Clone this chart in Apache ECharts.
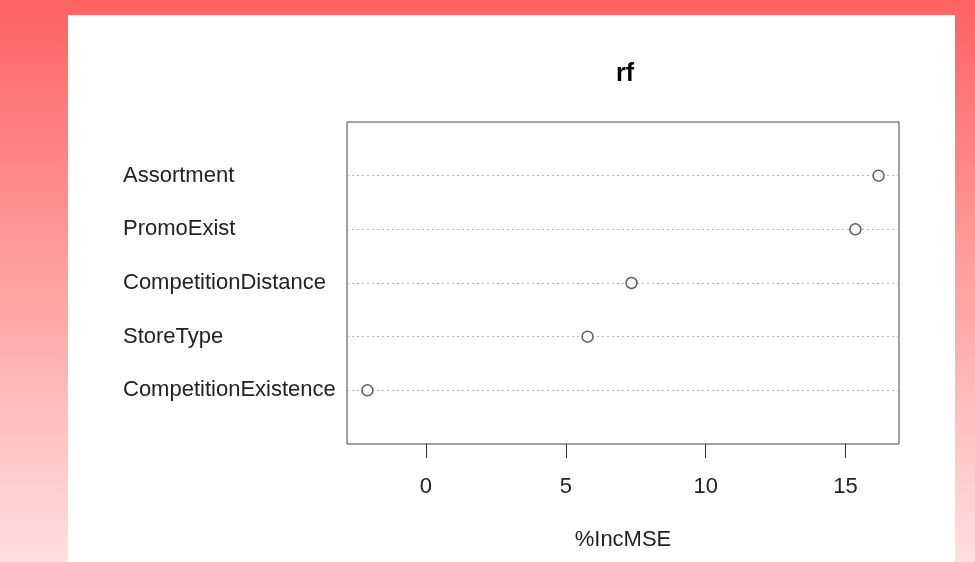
<!DOCTYPE html>
<html>
<head>
<meta charset="utf-8">
<script src="https://cdn.jsdelivr.net/npm/echarts@6/dist/echarts.min.js"></script>
<style>
html,body{margin:0;padding:0;}
#c{width:975px;height:562px;}
</style>
</head>
<body>
<div id="c"></div>
<script>
// Data (top to bottom as drawn)
var categories = ['Assortment', 'PromoExist', 'CompetitionDistance', 'StoreType', 'CompetitionExistence'];
var incMSE = [16.18, 15.35, 7.35, 5.78, -2.09];
var xTicks = [0, 5, 10, 15];
var chartTitle = 'rf';
var xTitle = '%IncMSE';

var n = categories.length;
var points = categories.map(function (c, i) { return [incMSE[i], n - i]; });

var font = "'Liberation Sans', Arial, Helvetica, sans-serif";
var chart = echarts.init(document.getElementById('c'));
chart.setOption({
  animation: false,
  graphic: [
    { type: 'rect', z: -10, silent: true, shape: { x: 0, y: 0, width: 975, height: 562 },
      style: { fill: new echarts.graphic.LinearGradient(0, 0, 0, 1, [
        { offset: 0, color: '#ff6262' },
        { offset: 0.5, color: '#ffa1a1' },
        { offset: 1, color: '#ffdfdf' }
      ]) } },
    { type: 'rect', z: -9, silent: true, shape: { x: 68, y: 15, width: 887, height: 547 },
      style: { fill: '#ffffff' } }
  ],
  title: {
    text: chartTitle,
    left: 620, top: 57, textAlign: 'center',
    textStyle: { fontFamily: font, fontSize: 25, fontWeight: 'bold', color: '#000' }
  },
  grid: {
    left: 347, top: 122, width: 552, height: 322,
    show: true, borderColor: '#444', borderWidth: 1, backgroundColor: 'transparent'
  },
  xAxis: {
    type: 'value', min: -2.82, max: 16.91,
    axisLine: { show: false },
    splitLine: { show: false },
    axisTick: { show: true, customValues: xTicks, length: 14, lineStyle: { color: '#333', width: 1 } },
    axisLabel: { customValues: xTicks, margin: 32, fontFamily: font, fontSize: 22, color: '#222' },
    name: xTitle, nameLocation: 'middle', nameGap: 85,
    nameTextStyle: { fontFamily: font, fontSize: 22, color: '#222' }
  },
  yAxis: {
    type: 'value', min: 0, max: n + 1, interval: 1,
    axisLine: { show: false },
    axisTick: { show: false },
    splitLine: { show: true, showMinLine: false, showMaxLine: false,
      lineStyle: { color: '#b4b4b4', type: [2, 3], width: 1 } },
    axisLabel: {
      align: 'left', margin: 224, fontFamily: font, fontSize: 22, color: '#222',
      formatter: function (v) {
        var idx = n - v;
        return (idx >= 0 && idx < n && v >= 1) ? categories[idx] : '';
      }
    }
  },
  series: [{
    type: 'scatter',
    data: points,
    symbol: 'circle',
    symbolSize: 11,
    itemStyle: { color: '#ffffff', borderColor: '#333', borderWidth: 1.5 }
  }]
});
</script>
</body>
</html>
